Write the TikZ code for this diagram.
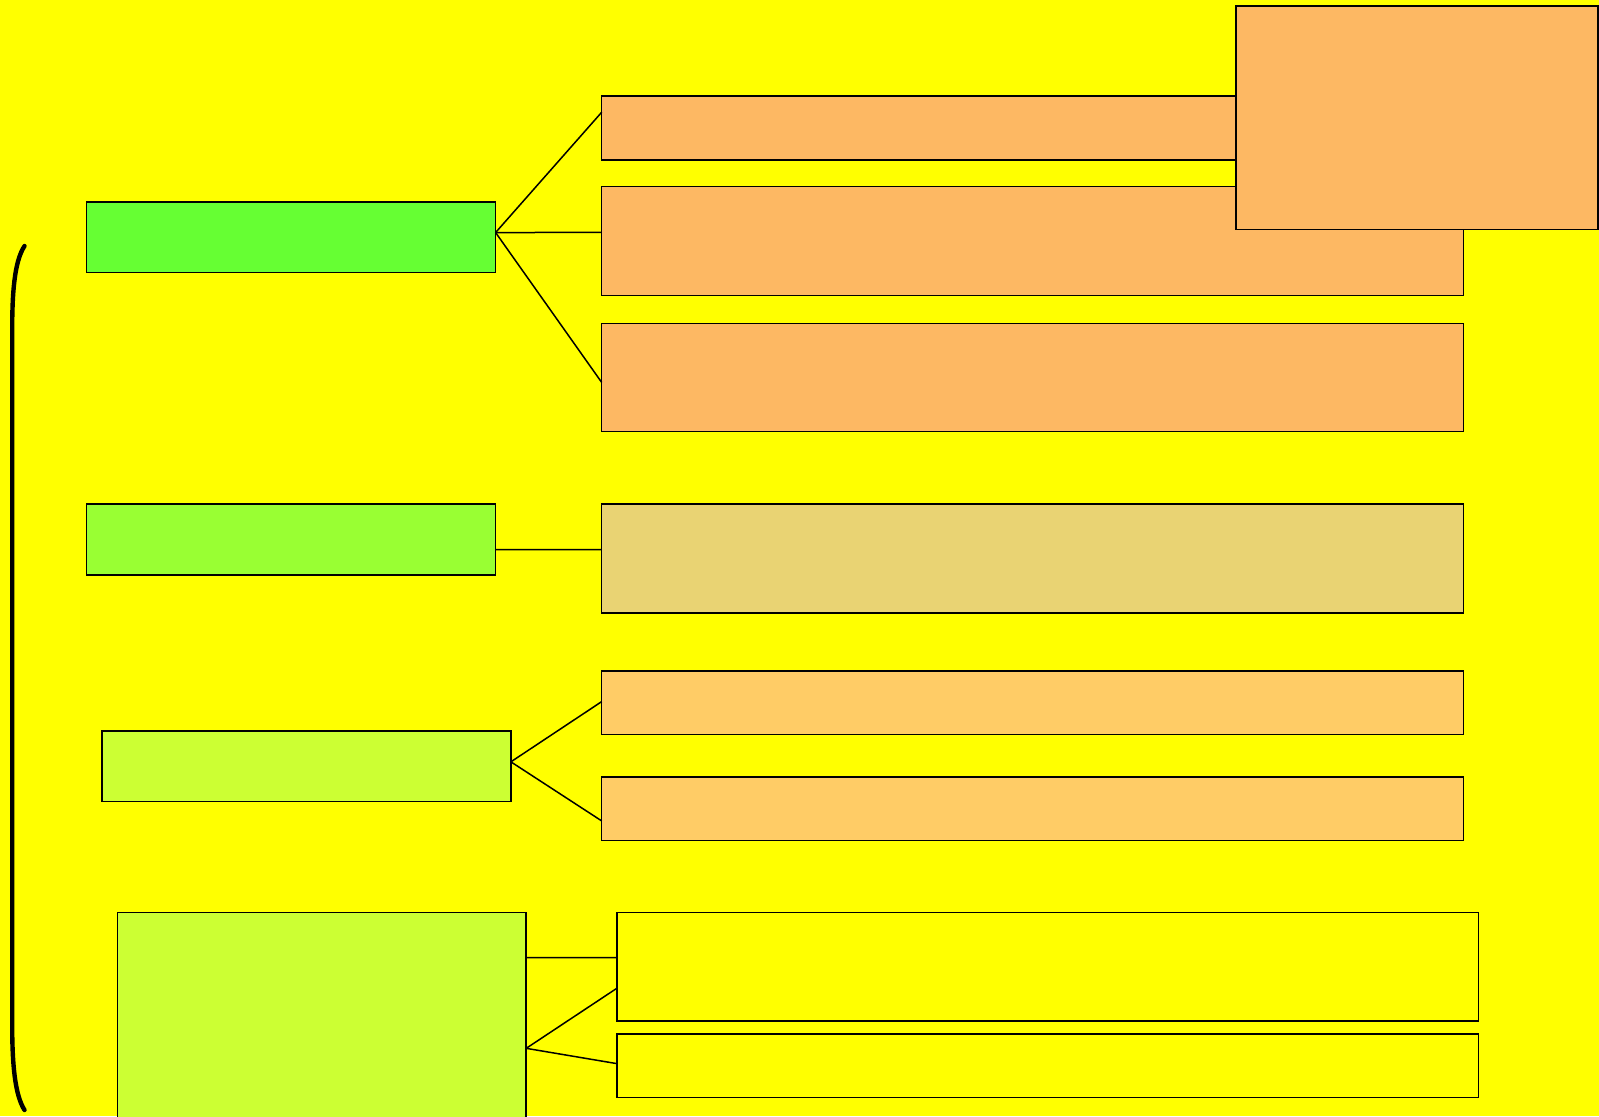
\documentclass[tikz,border=0pt]{standalone}
\usetikzlibrary{fit,calc}
\definecolor{bgyellow}{HTML}{FFFF00}
\definecolor{greenA}{HTML}{66FF33}
\definecolor{greenB}{HTML}{99FF33}
\definecolor{limeC}{HTML}{CCFF33}
\definecolor{orangebox}{HTML}{FDB863}
\definecolor{tanbox}{HTML}{E9D373}
\definecolor{lightorange}{HTML}{FFCC66}
\tikzset{
  box/.style={draw=black, line width=0.75pt, inner sep=0pt, outer sep=0pt, rectangle},
  link/.style={draw=black, line width=0.75pt},
  brace/.style={draw=black, line width=2.2pt, line cap=round}
}
\begin{document}
\begin{tikzpicture}[x=0.5pt,y=-0.5pt]
  % page
  \fill[bgyellow] (0,0) rectangle (1599,1116);
  \useasboundingbox (0,0) rectangle (1599,1116);
  \clip (0,0) rectangle (1599,1116);

  % left column
  \node[box, fill=greenA, fit={(86.7,201.9) (495.6,272.3)}] (A) {};
  \node[box, fill=greenB, fit={(86.7,503.8) (495.6,575.2)}] (B) {};
  \node[box, fill=limeC,  fit={(102,731.2) (510.9,801.6)}] (C) {};
  \node[box, fill=limeC,  fit={(117.3,912.7) (526.2,1140)}] (D) {};

  % right column
  \node[box, fill=orangebox, fit={(601.7,95.9) (1463.4,160.1)}] (O1) {};
  \node[box, fill=orangebox, fit={(601.7,186.6) (1463.4,295.7)}] (O2) {};
  \node[box, fill=orangebox, fit={(601.7,323.3) (1463.4,431.4)}] (O3) {};
  \node[box, fill=orangebox, fit={(1236,6.1) (1598,229.5)}] (Top) {};
  \node[box, fill=tanbox, fit={(601.7,503.8) (1463.4,612.9)}] (T) {};
  \node[box, fill=lightorange, fit={(601.7,671) (1463.4,734.3)}] (L1) {};
  \node[box, fill=lightorange, fit={(601.7,777.1) (1463.4,840.3)}] (L2) {};
  \node[box, fill=bgyellow, fit={(617,912.7) (1478.7,1020.8)}] (Y1) {};
  \node[box, fill=bgyellow, fit={(617,1034) (1478.7,1097.3)}] (Y2) {};

  % connectors
  \coordinate (a) at ($(A.north east)!0.435!(A.south east)$);
  \draw[link] (a) -- ($(O1.north west)!0.254!(O1.south west)$);
  \draw[link] (a) -- ($(O2.north west)!0.42!(O2.south west)$);
  \draw[link] (a) -- ($(O3.north west)!0.547!(O3.south west)$);

  \draw[link] ($(B.north east)!0.643!(B.south east)$) -- ($(T.north west)!0.42!(T.south west)$);

  \coordinate (c) at ($(C.north east)!0.435!(C.south east)$);
  \draw[link] (c) -- ($(L1.north west)!0.483!(L1.south west)$);
  \draw[link] (c) -- ($(L2.north west)!0.693!(L2.south west)$);

  \draw[link] ($(D.north east)!0.1975!(D.south east)$) -- ($(Y1.north west)!0.415!(Y1.south west)$);
  \coordinate (d) at ($(D.north east)!0.5966!(D.south east)$);
  \draw[link] (d) -- ($(Y1.north west)!0.698!(Y1.south west)$);
  \draw[link] (d) -- ($(Y2.north west)!0.468!(Y2.south west)$);

  % left bracket
  \coordinate (bt) at (24.5,246);
  \coordinate (bb) at (24.5,1110);
  \draw[brace] (bt) .. controls (14,262) and (12.2,295) .. (12.2,330)
    -- (12.2,1025) .. controls (12.2,1065) and (15,1095) .. (bb);
\end{tikzpicture}
\end{document}
